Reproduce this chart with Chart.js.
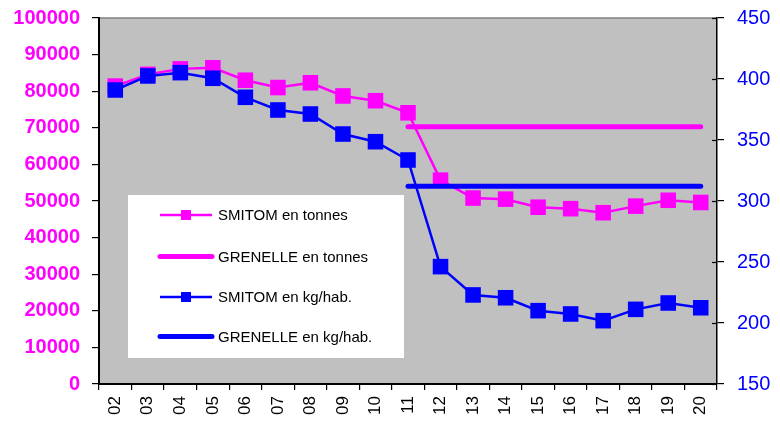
<!DOCTYPE html>
<html>
<head>
<meta charset="utf-8">
<script src="https://cdn.jsdelivr.net/npm/chart.js@4/dist/chart.umd.min.js"></script>
<style>
html,body{margin:0;padding:0;background:#fff;}
#wrap{width:780px;height:423px;position:relative;}
</style>
</head>
<body>
<div id="wrap"><canvas id="c" width="780" height="423"></canvas></div>
<script>
const categories = ["02","03","04","05","06","07","08","09","10","11","12","13","14","15","16","17","18","19","20"];
const smitomTonnes = [81400,84600,86100,86400,83000,81000,82300,78700,77400,74100,55700,50800,50500,48300,47900,46800,48600,50200,49600];
const grenelleTonnes = [null,null,null,null,null,null,null,null,null,70300,70300,70300,70300,70300,70300,70300,70300,70300,70300];
const smitomKg = [391,402.5,405.2,400.6,385,374.6,371.3,354.9,348.6,333.6,246.2,223,220.7,210.1,207.4,201.9,211.2,216.4,212.5];
const grenelleKg = [null,null,null,null,null,null,null,null,null,312,312,312,312,312,312,312,312,312,312];
const labels = ["SMITOM en tonnes","GRENELLE en tonnes","SMITOM en kg/hab.","GRENELLE en kg/hab."];

const PINK = "#FF00FF", BLUE = "#0000FF";
const FONT = "'Liberation Sans', Arial, sans-serif";

const bgPlugin = {
  id: "bg",
  beforeDraw(chart) {
    const {ctx, chartArea: a} = chart;
    ctx.save();
    ctx.fillStyle = "#C0C0C0";
    ctx.fillRect(a.left, a.top, a.right - a.left, a.bottom - a.top);
    ctx.strokeStyle = "#808080";
    ctx.lineWidth = 1.5;
    ctx.beginPath();
    ctx.moveTo(a.left, a.top);
    ctx.lineTo(a.right, a.top);
    ctx.stroke();
    ctx.restore();
  },
  afterDraw(chart) {
    const {ctx, chartArea: a} = chart;
    const s = chart.scales.y1;
    ctx.save();
    ctx.strokeStyle = "#000";
    ctx.lineWidth = 1.2;
    s.ticks.forEach((t, i) => {
      const y = Math.round(s.getPixelForTick(i)) + 0.5;
      ctx.beginPath();
      ctx.moveTo(a.right - 5, y);
      ctx.lineTo(a.right, y);
      ctx.stroke();
    });
    ctx.restore();
  }
};

const legendPlugin = {
  id: "customLegend",
  afterDatasetsDraw(chart) {
    const {ctx, chartArea: a} = chart;
    const x0 = a.left + 29, y0 = a.top + 177, w = 276, h = 163;
    ctx.save();
    ctx.fillStyle = "#FFFFFF";
    ctx.fillRect(x0, y0, w, h);
    const rowY = [20, 61.5, 102, 141.5];
    chart.data.datasets.forEach((ds, i) => {
      const y = y0 + rowY[i];
      ctx.strokeStyle = ds.borderColor;
      ctx.lineWidth = ds.pointRadius > 0 ? 2.5 : 5;
      ctx.lineCap = ds.pointRadius > 0 ? "butt" : "round";
      ctx.beginPath();
      ctx.moveTo(x0 + 32, y);
      ctx.lineTo(x0 + 84, y);
      ctx.stroke();
      if (ds.pointRadius > 0) {
        ctx.fillStyle = ds.borderColor;
        ctx.fillRect(x0 + 58 - 5, y - 5, 10, 10);
      }
      ctx.fillStyle = "#000";
      ctx.font = "15px " + FONT;
      ctx.textBaseline = "middle";
      ctx.textAlign = "left";
      ctx.fillText(ds.label, x0 + 90, y + 1);
    });
    ctx.restore();
  }
};

new Chart(document.getElementById("c"), {
  type: "line",
  data: {
    labels: categories,
    datasets: [
      {label: labels[0], data: smitomTonnes, yAxisID: "y", borderColor: PINK, backgroundColor: PINK,
       borderWidth: 2.5, pointStyle: "rect", pointRadius: 11, pointBorderWidth: 0, order: 3},
      {label: labels[1], data: grenelleTonnes, yAxisID: "y", borderColor: PINK, backgroundColor: PINK,
       borderWidth: 5, borderCapStyle: "round", pointRadius: 0, order: 2},
      {label: labels[2], data: smitomKg, yAxisID: "y1", borderColor: BLUE, backgroundColor: BLUE,
       borderWidth: 2.5, pointStyle: "rect", pointRadius: 11, pointBorderWidth: 0, order: 0},
      {label: labels[3], data: grenelleKg, yAxisID: "y1", borderColor: BLUE, backgroundColor: BLUE,
       borderWidth: 5, borderCapStyle: "round", pointRadius: 0, order: 1}
    ]
  },
  options: {
    responsive: false,
    animation: false,
    spanGaps: false,
    layout: {padding: {top: 18, left: 0, right: 0, bottom: 0}},
    plugins: {legend: {display: false}, tooltip: {enabled: false}},
    scales: {
      x: {
        type: "category",
        offset: true,
        grid: {display: true, drawOnChartArea: false, drawTicks: true, tickLength: 6, offset: true, color: "#000", lineWidth: 1.2},
        border: {display: true, color: "#000", width: 2},
        ticks: {minRotation: 90, maxRotation: 90, autoSkip: false, padding: 6, color: "#000", font: {family: FONT, size: 17}},
        afterFit(s) { s.height = 39; }
      },
      y: {
        position: "left",
        min: 0, max: 100000,
        ticks: {stepSize: 10000, color: PINK, padding: 12, font: {family: FONT, size: 20, weight: "bold", lineHeight: 0.5},
                callback: v => String(v)},
        grid: {display: true, drawOnChartArea: false, drawTicks: true, tickLength: 7, color: "#000", lineWidth: 1.2},
        border: {display: true, color: "#000", width: 2},
        afterFit(s) { s.width = 99; }
      },
      y1: {
        position: "right",
        min: 150, max: 450,
        ticks: {stepSize: 50, color: BLUE, padding: 13, font: {family: FONT, size: 20, lineHeight: 0.4}, callback: v => String(v)},
        grid: {display: true, drawOnChartArea: false, drawTicks: true, tickLength: 7, color: "#000", lineWidth: 1.2},
        border: {display: true, color: "#000", width: 1.5},
        afterFit(s) { s.width = 63; }
      }
    }
  },
  plugins: [bgPlugin, legendPlugin]
});
</script>
</body>
</html>
